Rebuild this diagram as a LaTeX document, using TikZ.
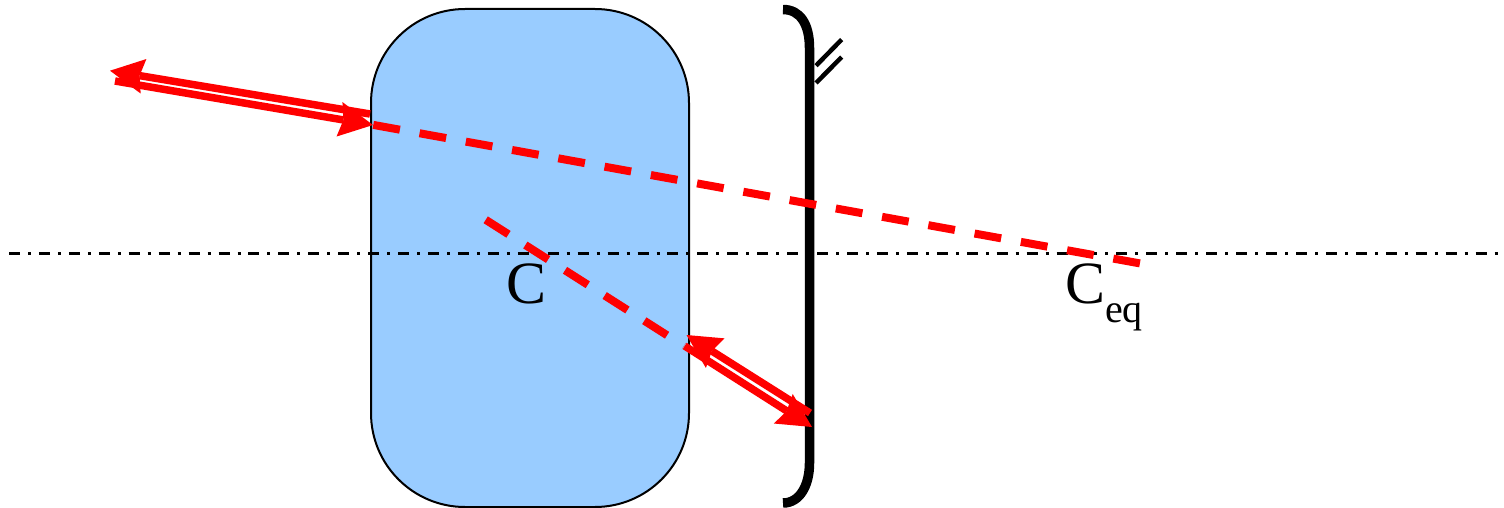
\documentclass[tikz,border=0pt]{standalone}
\usepackage{fontspec}
\setmainfont{Liberation Serif}
\usetikzlibrary{arrows.meta}
\definecolor{boxblue}{HTML}{99CCFF}
\tikzset{
  x=1pt,y=-1pt,
  redtip/.tip={Stealth[length=34pt,width=35pt,inset=4pt,line width=0pt,sep=0pt]},
  lensbox/.style={draw=black,line width=2pt,fill=boxblue,rounded corners=94pt,minimum width=318pt,minimum height=498pt,inner sep=0pt},
  axisline/.style={line width=3pt,dash pattern=on 11pt off 8pt on 3pt off 7.93pt},
  rayline/.style={red,line width=8pt,dash pattern=on 27pt off 20pt},
  beam/.style={red,line width=7.5pt,-{redtip}},
  mirrorline/.style={line width=9.5pt},
  tickline/.style={line width=4.5pt},
  lbl/.style={font=\fontsize{60}{60}\selectfont,inner sep=0pt,anchor=base}
}
\begin{document}
\begin{tikzpicture}
\useasboundingbox (0,0) rectangle (1504,508);
\node[lensbox] (lens) at (530,258) {};
\coordinate (axisL) at (9,253.5);
\coordinate (axisR) at (1498,253.5);
\draw[axisline] (axisL) -- (axisR);
% mirror
\coordinate (mTop) at (783,9.5);
\coordinate (mUpper) at (809.5,48);
\coordinate (mLower) at (809.5,463);
\coordinate (mBot) at (783,503);
\draw[mirrorline] (mTop) .. controls (800,9.5) and (809.5,24) .. (mUpper) -- (mLower) .. controls (809.5,485) and (800,503) .. (mBot);
\coordinate (t1a) at (816,65.7);
\coordinate (t1b) at (841.7,39.5);
\coordinate (t2a) at (816,83);
\coordinate (t2b) at (841.7,57);
\draw[tickline] (t1a) -- (t1b);
\draw[tickline] (t2a) -- (t2b);
% labels
\node[lbl] (c) at (526.5,303) {C};
\node[lbl] (ceq) at (1104,303) {C\raisebox{-19pt}{\fontsize{40}{40}\selectfont eq}};
% dashed rays
\coordinate (r1start) at (373.3,124.9);
\coordinate (r1end) at (1140.5,263.5);
\draw[rayline] (r1start) -- (r1end);
\coordinate (r2start) at (485.7,219.8);
\coordinate (r2end) at (684,346);
\draw[rayline] (r2start) -- (r2end);
% beams
\coordinate (b1a) at (370,114);
\coordinate (b1b) at (110,70.7);
\coordinate (b2a) at (115,81);
\coordinate (b2b) at (373,125);
\draw[beam] (b1a) -- (b1b);
\draw[beam] (b2a) -- (b2b);
\coordinate (b3a) at (810,413);
\coordinate (b3b) at (686.5,335);
\coordinate (b4a) at (684.7,346);
\coordinate (b4b) at (812,427);
\draw[beam] (b3a) -- (b3b);
\draw[beam] (b4a) -- (b4b);
\end{tikzpicture}
\end{document}
